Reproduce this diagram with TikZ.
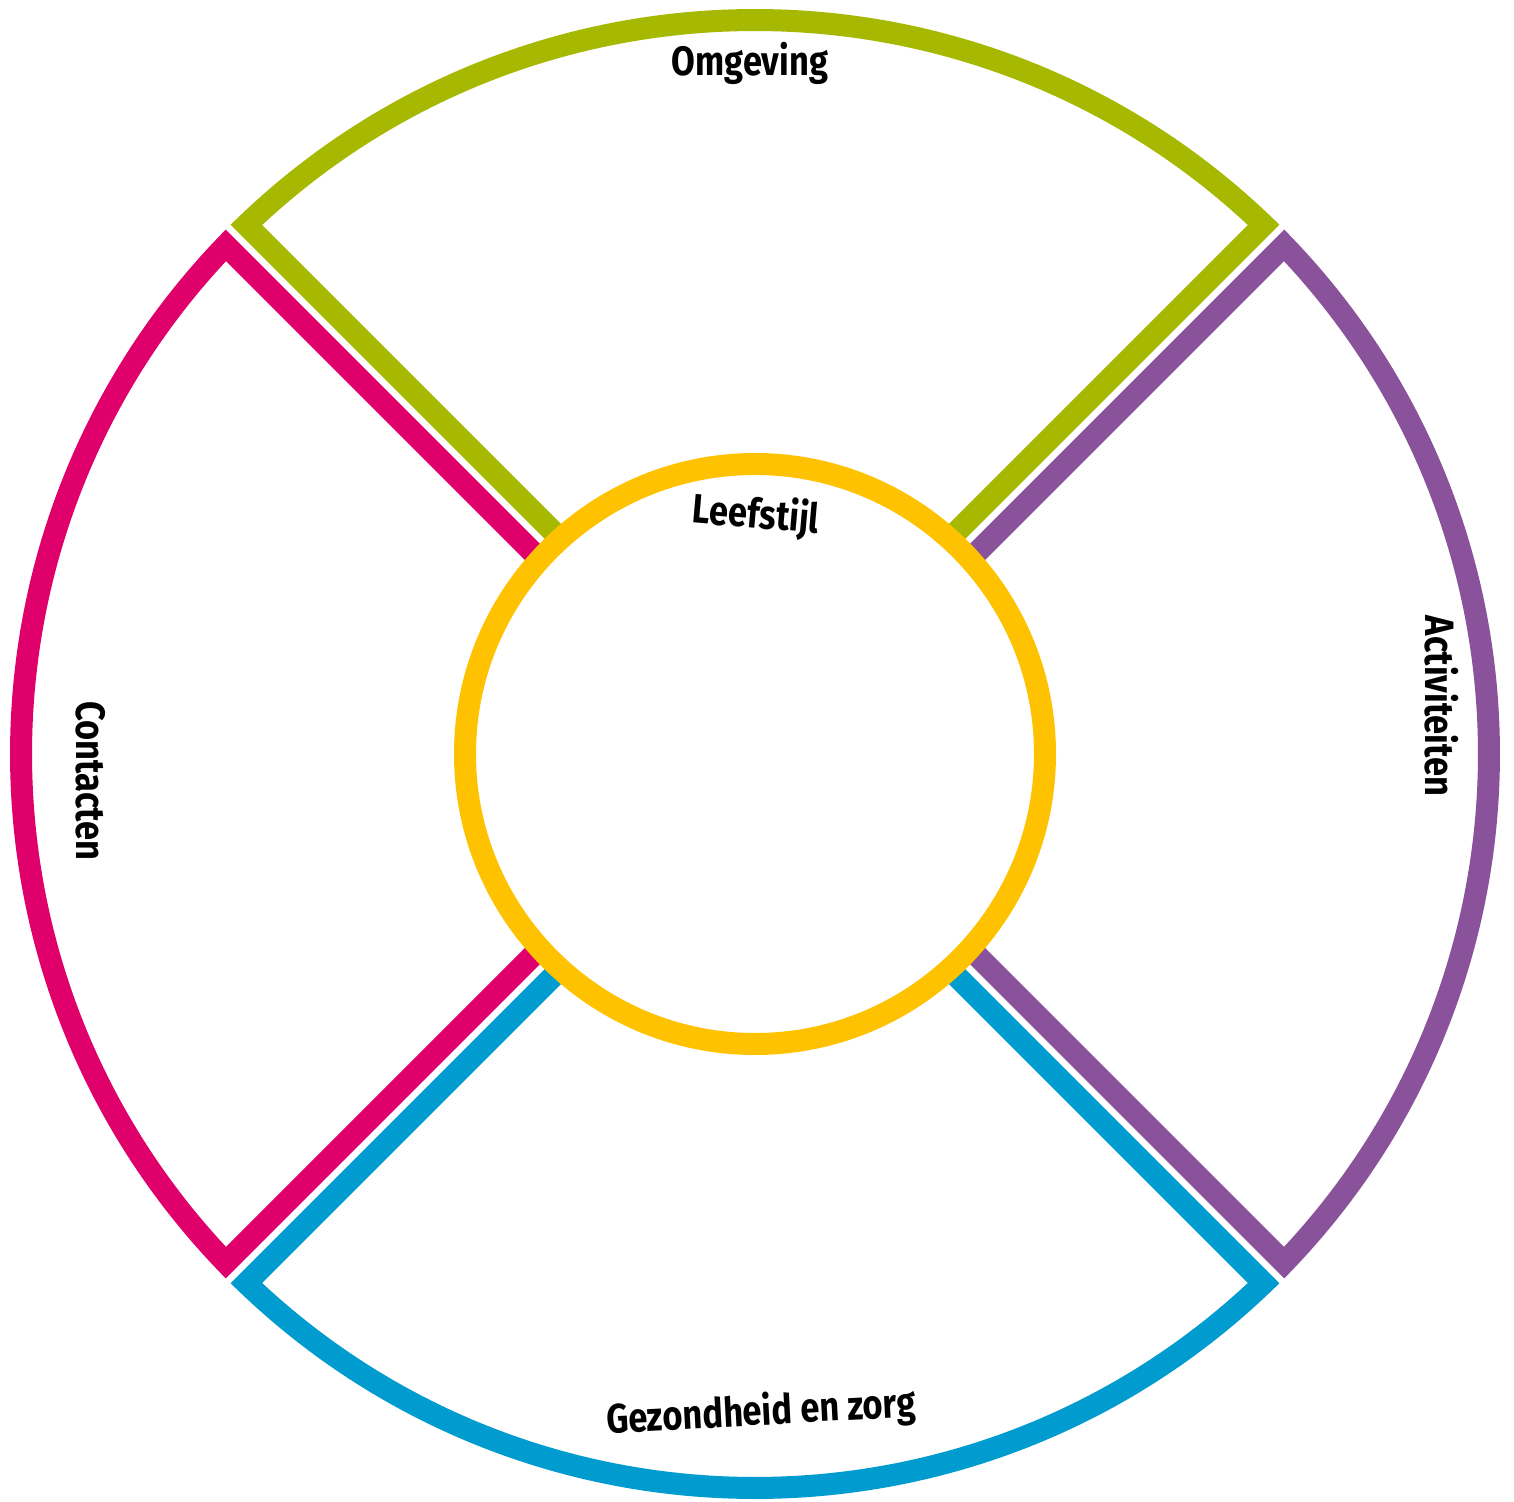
\documentclass[tikz,border=0pt]{standalone}
\usepackage{fontspec}
\newfontfamily\lbl[FakeStretch=0.84]{Fira Sans}
\definecolor{cgreen}{RGB}{166,185,0}
\definecolor{cpink}{RGB}{224,0,108}
\definecolor{cpurple}{RGB}{138,82,154}
\definecolor{cblue}{RGB}{0,155,207}
\definecolor{cyellow}{RGB}{255,194,0}
\tikzset{
  seg/.style={line width=22pt, line join=miter, miter limit=10},
  ring/.style={line width=22pt, draw=cyellow, fill=white},
  lab/.style={font=\lbl\bfseries\fontsize{41}{41}\selectfont, text=black, inner sep=0pt}
}
\begin{document}
\begin{tikzpicture}[x=1pt,y=1pt]
\useasboundingbox[fill=white] (-755pt,-747pt) rectangle (759pt,754pt);
\def\R{734pt}
\def\dl{1.13}
\def\di{20.5pt}
% sectors
\draw[seg, draw=cgreen]  (90:\di)  -- ({45+\dl}:\R)  arc[start angle={45+\dl},  end angle={135-\dl}, radius=\R] -- cycle;
\draw[seg, draw=cpink]   (180:\di) -- ({135+\dl}:\R) arc[start angle={135+\dl}, end angle={225-\dl}, radius=\R] -- cycle;
\draw[seg, draw=cblue]   (270:\di) -- ({225+\dl}:\R) arc[start angle={225+\dl}, end angle={315-\dl}, radius=\R] -- cycle;
\draw[seg, draw=cpurple] (0:\di)   -- ({-45+\dl}:\R) arc[start angle={-45+\dl}, end angle={45-\dl},  radius=\R] -- cycle;
% centre circle
\draw[ring] (0,0) circle[radius=290pt];
% labels
\node[lab] (omg) at (-5,691) {Omgeving};
\node[lab, rotate=-5] (lee) at (1,238) {Leefstijl};
\node[lab, rotate=-90] (act) at (687,48) {Activiteiten};
\node[lab, rotate=-90] (con) at (-664,-27) {Contacten};
\node[lab, rotate=3] (gez) at (6,-659) {Gezondheid en zorg};
\end{tikzpicture}
\end{document}
